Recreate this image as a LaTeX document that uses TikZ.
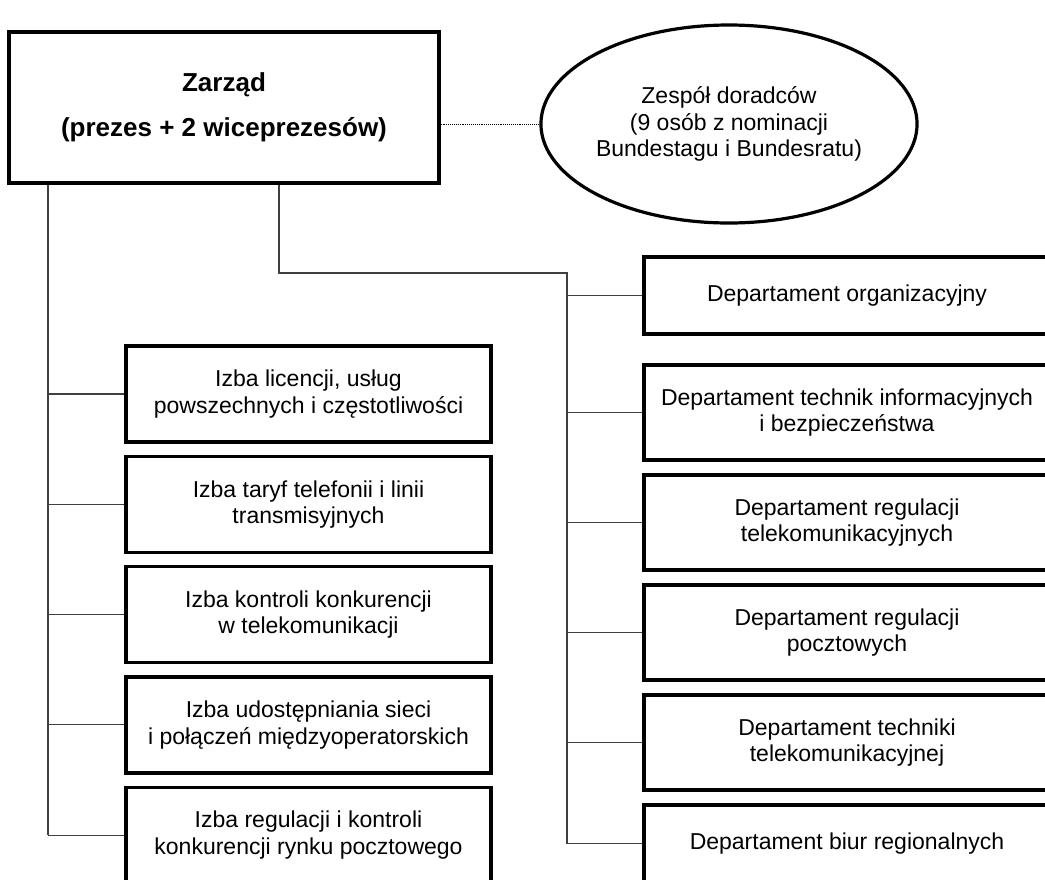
\documentclass[tikz,border=0pt]{standalone}
\usepackage{fontspec}
\setmainfont{Liberation Sans}
\usetikzlibrary{positioning,shapes.geometric,calc}

\begin{document}
\begin{tikzpicture}[x=1pt, y=-1pt,
  box/.style={draw, line width=3.2pt, inner sep=0, align=center,
              font=\fontsize{23}{26.5}\selectfont},
  izba/.style={box, minimum width=365pt, minimum height=96pt},
  dep/.style={box, minimum width=406pt, minimum height=95pt},
  krotki/.style={dep, minimum height=77pt},
  link/.style={line width=1.1pt, black!75}]
\useasboundingbox (0,0) rectangle (1045,879);
\clip (0,0) rectangle (1045,879);
% top
\node[box, minimum width=430pt, minimum height=151pt,
  font=\fontsize{26}{45}\selectfont\bfseries] (zarzad) at (224,107.5)
  {Zarząd\\(prezes + 2 wiceprezesów)};
\node[box, ellipse, minimum width=372pt, minimum height=198pt] (doradcy) at (729,124)
  {Zespół doradców\\(9 osób z nominacji\\Bundestagu i Bundesratu)};
\draw[densely dotted, line width=0.9pt] (zarzad.east |- doradcy) -- (doradcy.west);
% left column
\foreach \t [count=\i] in {{Izba licencji, usług\\powszechnych i częstotliwości},
    {Izba taryf telefonii i linii\\transmisyjnych},
    {Izba kontroli konkurencji\\w telekomunikacji},
    {Izba udostępniania sieci\\i połączeń międzyoperatorskich},
    {Izba regulacji i kontroli\\konkurencji rynku pocztowego}}
  \node[izba] (izba\i) at (308.5, {394+110.3*(\i-1)}) {\t};
% right column
\node[krotki] (dep1) at (847,295.5) {Departament organizacyjny};
\foreach \t [count=\i from 2] in {{Departament technik informacyjnych\\i bezpieczeństwa},
    {Departament regulacji\\telekomunikacyjnych},
    {Departament regulacji\\pocztowych},
    {Departament techniki\\telekomunikacyjnej}}
  \node[dep] (dep\i) at (847, {412.5+110*(\i-2)}) {\t};
\node[krotki] (dep6) at (847,843.5) {Departament biur regionalnych};
% connectors
\coordinate (lewy) at (48,0);
\coordinate (zejscie) at (279,0);
\coordinate (prawy) at (567,273);
\draw[link] (zarzad.south -| lewy) -- (lewy |- izba5);
\foreach \i in {1,...,5}
  \draw[link] (lewy |- izba\i) -- (izba\i);
\draw[link] (zarzad.south -| zejscie) |- (prawy) -- (prawy |- dep6);
\foreach \i in {1,...,6}
  \draw[link] (prawy |- dep\i) -- (dep\i);
\end{tikzpicture}
\end{document}
